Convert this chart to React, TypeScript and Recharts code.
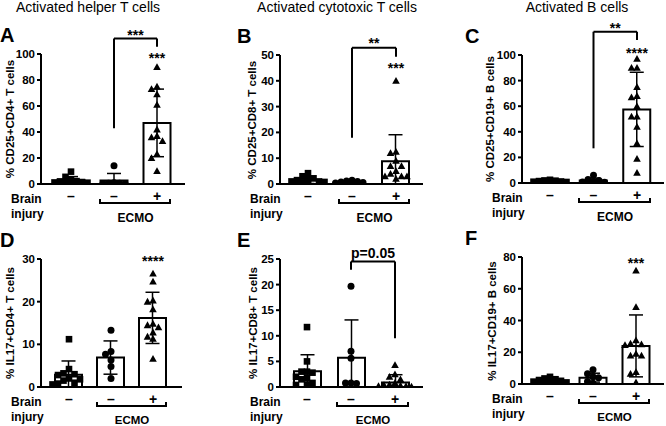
import React from "react";
import {
  ComposedChart,
  Bar,
  Scatter,
  XAxis,
  YAxis,
  ErrorBar,
  ReferenceLine,
  ReferenceDot,
} from "recharts";

const FONT = '"Liberation Sans", Arial, Helvetica, sans-serif';

// x tick labels: control, ECMO without / with brain injury
const GROUP_TICKS = ["–", "–", "+"];

// A: CD25+CD4+
const A_MEAN = [2.7, 2.6, 47];
const A_SD = [3, 5.5, 26];
const A_CTRL = [9.5, 5.5, 3, 2.2, 2, 1.5, 1.2, 1, 0.6, 0.5, 0.3];
const A_ECMO = [14, 1, 0.6, 0.5, 0.4, 0.2];
const A_ECMO_BI = [90, 75, 73, 69, 61, 42, 37, 36, 33, 23, 20, 10];
const A_TICKS = [0, 20, 40, 60, 80, 100];

// B: CD25+CD8+
const B_MEAN = [1.5, 0.8, 8.8];
const B_SD = [1.3, 0.5, 10.3];
const B_CTRL = [4.2, 3, 2.2, 1.8, 1.5, 1, 1, 0.8, 0.6, 0.5, 0.4];
const B_ECMO = [1.5, 1.2, 1, 0.8, 0.6, 0.4];
const B_ECMO_BI = [40, 12.5, 12, 9, 7, 7, 5, 4, 3, 3, 3, 2];
const B_TICKS = [0, 10, 20, 30, 40, 50];

// C: CD25+CD19+
const C_MEAN = [1, 2, 57.5];
const C_SD = [0.8, 1.8, 29];
const C_CTRL = [2.5, 2, 1.8, 1.5, 1.2, 1, 0.8, 0.5, 0.4, 0.3, 0.2];
const C_ECMO = [6, 2.8, 2, 1.2, 0.8, 0.5];
const C_ECMO_BI = [97, 90, 90, 75, 68, 67, 60, 52, 52, 44, 31, 19, 8];
const C_TICKS = [0, 20, 40, 60, 80, 100];

// D: IL17+CD4+
const D_MEAN = [2.9, 6.9, 16.2];
const D_SD = [3.2, 3.9, 6];
const D_CTRL = [11.2, 4.2, 3.2, 3, 2.8, 2, 1.8, 1.5, 1, 0.8, 0.6];
const D_ECMO = [13.3, 8.3, 7.7, 6.3, 4.8, 2];
const D_ECMO_BI = [26.6, 24.7, 20.3, 20, 18.2, 14.8, 14.5, 14, 12.8, 11.8, 11.3, 6.6];
const D_TICKS = [0, 10, 20, 30];

// E: IL17+CD8+
const E_MEAN = [3.1, 5.7, 0.9];
const E_SD = [3.2, 7.4, 1.5];
const E_CTRL = [11.7, 5, 3, 3, 2.8, 2, 1.8, 1.5, 0.8, 0.5, 0.4];
const E_ECMO = [19.7, 7, 5.6, 0.8, 0.7, 0.8];
const E_ECMO_BI = [4.3, 2.5, 2, 1.5, 0.8, 0.5, 0.4, 0.3, 0.2, 0.2, 0.1, 0.1];
const E_TICKS = [0, 5, 10, 15, 20, 25];

// F: IL17+CD19+
const F_MEAN = [1.5, 4, 24];
const F_SD = [1.3, 2.8, 19.5];
const F_CTRL = [4.5, 3.5, 3, 2.5, 2, 1.5, 1, 1, 0.5, 0.5, 0.3];
const F_ECMO = [9, 6.5, 4.5, 4, 1.5, 0.5];
const F_ECMO_BI = [71.5, 48.5, 27.5, 25.5, 25, 24.5, 19, 18, 18, 7.5, 6.5, 1];
const F_TICKS = [0, 20, 40, 60, 80];

type Bracket = { top: number; left: number; right: number; label: string; labelY: number };
type Star = { label: string; y: number };

type PanelDef = {
  letter: string;
  title?: string;
  titleX?: number;
  yLabel: string;
  yLabelX: number;
  mean: number[];
  sd: number[];
  pts: number[][];
  yMax: number;
  ticks: number[];
  plot: { left: number; right: number; top: number; bottom: number };
  g: number[];
  letterX: number;
  bracket?: Bracket;
  star?: Star;
};

const PANELS: PanelDef[] = [
  {
    letter: "A", title: "Activated helper T cells", titleX: 88, letterX: 0,
    yLabel: "% CD25+CD4+ T cells", yLabelX: 10,
    mean: A_MEAN, sd: A_SD, pts: [A_CTRL, A_ECMO, A_ECMO_BI], yMax: 100, ticks: A_TICKS,
    plot: { left: 41, right: 185, top: 54, bottom: 184 }, g: [71, 114, 157],
    bracket: { top: 112, left: 42.8, right: 105.6, label: "***", labelY: 117 },
    star: { label: "***", y: 99 },
  },
  {
    letter: "B", title: "Activated cytotoxic T cells", titleX: 337, letterX: 237,
    yLabel: "% CD25+CD8+ T cells", yLabelX: 252,
    mean: B_MEAN, sd: B_SD, pts: [B_CTRL, B_ECMO, B_ECMO_BI], yMax: 50, ticks: B_TICKS,
    plot: { left: 280, right: 423, top: 55, bottom: 184 }, g: [308, 353, 396],
    bracket: { top: 52.8, left: 17.9, right: 49.3, label: "**", labelY: 55.8 },
    star: { label: "***", y: 46 },
  },
  {
    letter: "C", title: "Activated B cells", titleX: 577, letterX: 465,
    yLabel: "% CD25+CD19+ B cells", yLabelX: 490,
    mean: C_MEAN, sd: C_SD, pts: [C_CTRL, C_ECMO, C_ECMO_BI], yMax: 100, ticks: C_TICKS,
    plot: { left: 522, right: 664, top: 55, bottom: 183 }, g: [550, 593, 637],
    bracket: { top: 118.2, left: 27.1, right: 111.7, label: "**", labelY: 123.4 },
    star: { label: "****", y: 104 },
  },
  {
    letter: "D", letterX: 0,
    yLabel: "% IL17+CD4+ T cells", yLabelX: 10,
    mean: D_MEAN, sd: D_SD, pts: [D_CTRL, D_ECMO, D_ECMO_BI], yMax: 30, ticks: D_TICKS,
    plot: { left: 41, right: 182, top: 259, bottom: 387 }, g: [69, 111, 153],
    star: { label: "****", y: 30.3 },
  },
  {
    letter: "E", letterX: 237,
    yLabel: "% IL17+CD8+ T cells", yLabelX: 253,
    mean: E_MEAN, sd: E_SD, pts: [E_CTRL, E_ECMO, E_ECMO_BI], yMax: 25, ticks: E_TICKS,
    plot: { left: 280, right: 423, top: 259, bottom: 387 }, g: [307, 351, 395],
    bracket: { top: 24.5, left: 22.9, right: 9.5, label: "p=0.05", labelY: 26.2 },
  },
  {
    letter: "F", letterX: 465,
    yLabel: "% IL17+CD19+ B cells", yLabelX: 492,
    mean: F_MEAN, sd: F_SD, pts: [F_CTRL, F_ECMO, F_ECMO_BI], yMax: 80, ticks: F_TICKS,
    plot: { left: 522, right: 664, top: 257, bottom: 384 }, g: [550, 593, 636],
    star: { label: "***", y: 78 },
  },
];

// simple beeswarm: spread close values sideways within a limited width, overlap beyond that
function swarm(values: number[], group: number, yPx: number, xPx: number) {
  const stepX = 5.5;
  const gapY = 6;
  const slots = [0, -1, 1, -2, 2, -3, 3].map((k) => k * stepX);
  const placed: { dx: number; py: number }[] = [];
  const out: { x: number; y: number }[] = [];
  const order = values.map((_, i) => i).sort((a, b) => values[b] - values[a]);
  for (const i of order) {
    const py = values[i] * yPx;
    let best = 0;
    let bestHits = Infinity;
    for (const dx of slots) {
      const hits = placed.filter(
        (p) => Math.abs(p.dx - dx) < stepX * 0.9 && Math.abs(p.py - py) < gapY
      ).length;
      if (hits < bestHits) {
        bestHits = hits;
        best = dx;
      }
      if (hits === 0) break;
    }
    placed.push({ dx: best, py });
    out.push({ x: group + best / xPx, y: values[i] });
  }
  return out;
}

const Square = (props: any) => (
  <rect x={props.cx - 3.3} y={props.cy - 3.3} width={6.6} height={6.6} fill="#000" />
);
const Circle = (props: any) => <circle cx={props.cx} cy={props.cy} r={3.5} fill="#000" />;
const Triangle = (props: any) => (
  <polygon
    points={`${props.cx},${props.cy - 3.8} ${props.cx - 3.8},${props.cy + 3} ${props.cx + 3.8},${props.cy + 3}`}
    fill="#000"
  />
);
const SHAPES = [Square, Circle, Triangle];

const textLabel = (label: string, dy: number) => (props: any) => (
  <text
    x={props.cx}
    y={props.cy + dy}
    textAnchor="middle"
    fontFamily={FONT}
    fontWeight="bold"
    fontSize={14}
    fill="#000"
  >
    {label}
  </text>
);

function Panel({ p }: { p: PanelDef }) {
  const { plot, g } = p;
  const unit = (g[2] - g[0]) / 2;
  const x0 = 1 - (g[0] - plot.left) / unit;
  const x1 = 3 + (plot.right - g[2]) / unit;
  const yPx = (plot.bottom - plot.top) / p.yMax;
  const bars = p.mean.map((m, i) => ({ x: i + 1, mean: m, err: [Math.min(p.sd[i], m), p.sd[i]] }));
  const pts = p.pts.map((vals, i) => swarm(vals, i + 1, yPx, unit));
  const boxLeft = plot.left - 35;
  const boxTop = plot.top - 40;
  const w = plot.right - boxLeft + 2;
  const h = plot.bottom - boxTop + 26;
  const axisStyle = { stroke: "#000", strokeWidth: 2 };
  const bold = { fontFamily: FONT, fontWeight: "bold" as const, fill: "#000" };
  const midX = (g[1] + g[2]) / 2;
  const row2 = plot.top > 200;

  return (
    <>
      <div style={{ position: "absolute", left: boxLeft, top: boxTop }}>
        <ComposedChart
          width={w}
          height={h}
          data={bars}
          margin={{ top: 40, right: 2, left: 5, bottom: 0 }}
        >
          <XAxis
            type="number"
            dataKey="x"
            domain={[x0, x1]}
            allowDataOverflow
            ticks={[1, 2, 3]}
            interval={0}
            tickFormatter={(v) => GROUP_TICKS[Math.round(v) - 1]}
            tick={{ ...bold, fontSize: 14 }}
            tickLine={false}
            tickSize={5}
            tickMargin={2}
            axisLine={axisStyle}
            height={26}
          />
          <XAxis xAxisId="pts" type="number" dataKey="x" domain={[x0, x1]} allowDataOverflow hide />
          <YAxis
            type="number"
            domain={[0, p.yMax]}
            allowDataOverflow
            ticks={p.ticks}
            interval={0}
            tick={{ ...bold, fontSize: 11.5 }}
            tickSize={4}
            tickMargin={2}
            tickLine={axisStyle}
            axisLine={axisStyle}
            width={30}
          />
          <Bar
            dataKey="mean"
            barSize={27}
            fill="#fff"
            stroke="#000"
            strokeWidth={2}
            isAnimationActive={false}
          >
            <ErrorBar dataKey="err" width={7} stroke="#000" strokeWidth={1.5} isAnimationActive={false} />
          </Bar>
          {pts.map((d, i) => (
            <Scatter
              key={i}
              xAxisId="pts"
              data={d}
              dataKey="y"
              shape={SHAPES[i]}
              isAnimationActive={false}
            />
          ))}
          {p.bracket && (
            <ReferenceLine
              segment={[{ x: 2, y: p.bracket.left }, { x: 2, y: p.bracket.top }]}
              stroke="#000"
              strokeWidth={2}
              ifOverflow="visible"
            />
          )}
          {p.bracket && (
            <ReferenceLine
              segment={[{ x: 2, y: p.bracket.top }, { x: 3, y: p.bracket.top }]}
              stroke="#000"
              strokeWidth={2}
              ifOverflow="visible"
            />
          )}
          {p.bracket && (
            <ReferenceLine
              segment={[{ x: 3, y: p.bracket.top }, { x: 3, y: p.bracket.right }]}
              stroke="#000"
              strokeWidth={2}
              ifOverflow="visible"
            />
          )}
          {p.bracket && (
            <ReferenceDot
              x={2.5}
              y={p.bracket.labelY}
              r={1}
              ifOverflow="visible"
              shape={textLabel(p.bracket.label, p.bracket.label.startsWith("p") ? 5 : 8)}
            />
          )}
          {p.star && (
            <ReferenceDot
              x={3}
              y={p.star.y}
              r={1}
              ifOverflow="visible"
              shape={textLabel(p.star.label, 8)}
            />
          )}
        </ComposedChart>
      </div>

      {p.title && (
        <div
          style={{
            position: "absolute", left: p.titleX, top: 7, transform: "translate(-50%, -50%)",
            fontFamily: FONT, fontSize: 14, whiteSpace: "nowrap", lineHeight: "16px",
          }}
        >
          {p.title}
        </div>
      )}
      <div
        style={{
          position: "absolute", left: p.letterX, top: plot.top - 19, transform: "translateY(-50%)",
          fontFamily: FONT, fontWeight: "bold", fontSize: 20, lineHeight: "20px",
        }}
      >
        {p.letter}
      </div>
      <div
        style={{
          position: "absolute", left: p.yLabelX, top: (plot.top + plot.bottom) / 2,
          transform: "translate(-50%, -50%) rotate(-90deg)",
          fontFamily: FONT, fontWeight: "bold", fontSize: 11.5, whiteSpace: "nowrap",
        }}
      >
        {p.yLabel}
      </div>
      <div
        style={{
          position: "absolute", left: plot.left - 30, top: plot.bottom + 8,
          fontFamily: FONT, fontWeight: "bold", fontSize: 12, lineHeight: "15px",
        }}
      >
        Brain
        <br />
        injury
      </div>
      <div
        style={{
          position: "absolute", left: g[1] - 15, width: g[2] - g[1] + 29, top: plot.bottom + 15,
          height: 5, borderLeft: "2px solid #000", borderRight: "2px solid #000",
          borderBottom: "2px solid #000", boxSizing: "border-box",
        }}
      />
      <div
        style={{
          position: "absolute", left: midX, top: plot.bottom + (row2 ? 33 : 34),
          transform: "translate(-50%, -50%)",
          fontFamily: FONT, fontWeight: "bold", fontSize: row2 ? 11.5 : 12, lineHeight: "10px",
        }}
      >
        ECMO
      </div>
    </>
  );
}

export default function App() {
  return (
    <div
      style={{
        position: "absolute", left: 0, top: 0, width: 666, height: 426,
        background: "#fff", overflow: "hidden",
      }}
    >
      {PANELS.map((p) => (
        <Panel key={p.letter} p={p} />
      ))}
    </div>
  );
}
